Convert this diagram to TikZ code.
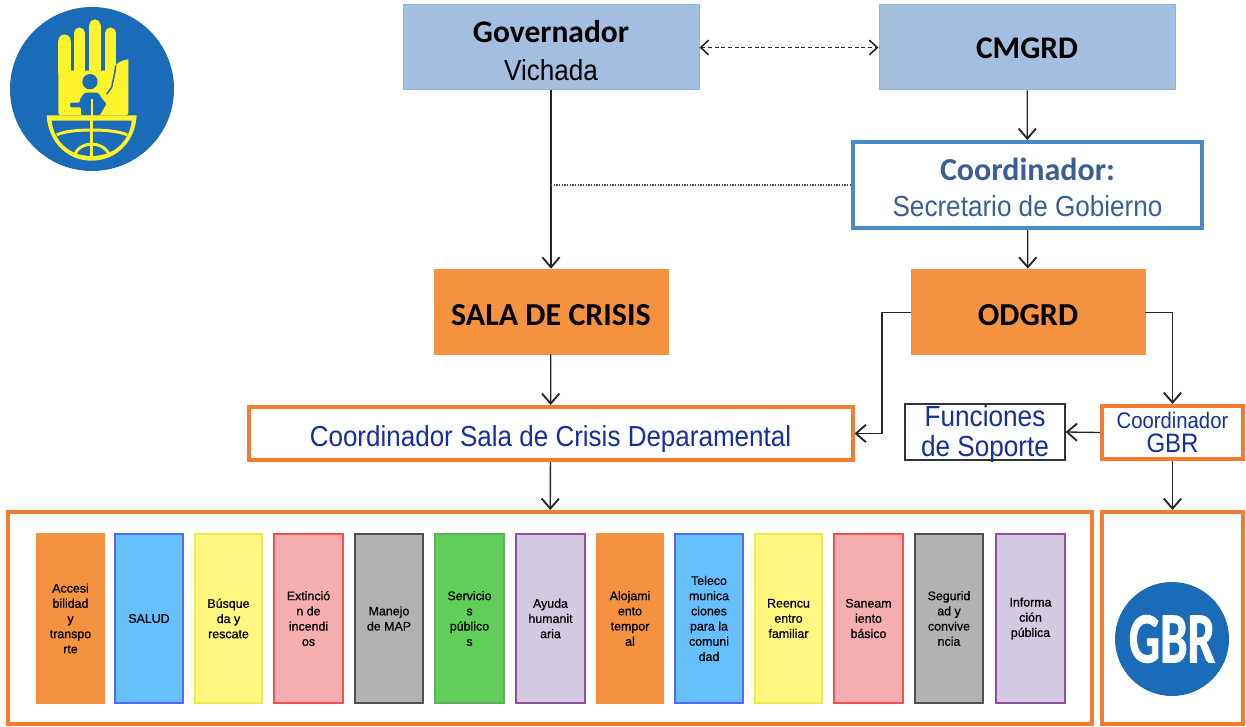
\documentclass[tikz,border=0pt]{standalone}
\usepackage{fontspec}
\setmainfont{Liberation Sans}
\newfontfamily\headf[Ligatures=TeX]{Carlito}
\newfontfamily\narrowf[FakeStretch=0.9]{Liberation Sans}
\newfontfamily\smallf[FakeBold=0.6]{Liberation Sans}
\newfontfamily\gbrf[FakeStretch=0.68,FakeBold=1.2]{Carlito Bold}
\newcommand{\px}[1]{\fontsize{\fpeval{#1*0.75}pt}{\fpeval{#1*0.75*1.1}pt}\selectfont}
\usetikzlibrary{arrows.meta,calc}
\definecolor{headblue}{HTML}{A4BEE0}
\definecolor{headline}{HTML}{8FB4DC}
\definecolor{cordline}{HTML}{4A8BC4}
\definecolor{cordtext}{HTML}{3A5F95}
\definecolor{orangefill}{HTML}{F4923F}
\definecolor{orangeline}{HTML}{F47B30}
\definecolor{navy}{HTML}{14309C}
\definecolor{logoblue}{HTML}{1A6BB8}
\definecolor{logoyellow}{HTML}{FFF42B}
\definecolor{fOr}{HTML}{F4923F}\definecolor{lOr}{HTML}{F4923F}
\definecolor{fBl}{HTML}{66BFFF}\definecolor{lBl}{HTML}{4D6BFF}
\definecolor{fYe}{HTML}{FFF780}\definecolor{lYe}{HTML}{F0E850}
\definecolor{fPi}{HTML}{F5ADB0}\definecolor{lPi}{HTML}{F0504F}
\definecolor{fGr}{HTML}{B2B2B2}\definecolor{lGr}{HTML}{505050}
\definecolor{fGn}{HTML}{61CF5A}\definecolor{lGn}{HTML}{5FB060}
\definecolor{fLi}{HTML}{D3C9E0}\definecolor{lLi}{HTML}{9050A0}
\tikzset{
  pxbox/.style n args={2}{minimum width=#1*0.75pt,minimum height=#2*0.75pt,inner sep=0pt,align=center,anchor=center},
  headbox/.style={fill=headblue,draw=headline,line width=0.75pt},
  orangebox/.style={fill=orangefill,draw=orangefill,line width=0.5pt},
  framebox/.style={fill=white,draw=orangeline,line width=3pt},
  conn/.style={draw=black!85,line width=1pt,-{Straight Barb[length=7.5pt,width=13pt,line width=1.4pt]}},
  tile/.style n args={2}{fill=f#1,draw=l#1,line width=1.6pt,minimum width=#2*0.75pt-1pt,minimum height=169*0.75pt,inner sep=0pt,align=center,anchor=center,font=\smallf\fontsize{9.3pt}{11.4pt}\selectfont}
}
\begin{document}
\begin{tikzpicture}[x=0.75pt,y=-0.75pt]
\useasboundingbox (0,0) rectangle (1246,727);
% logo
\fill[logoblue] (92,89) circle (82);
\begin{scope}[x=0.25pt,y=-0.25pt]
  \fill[logoyellow,rounded corners=2pt] (175,212) rectangle (385,346);
  \fill[logoyellow] (175,122) rectangle (212,220);
  \fill[logoyellow] (193.5,122) circle (18.5);
  \fill[logoyellow] (222,99) rectangle (255,220);
  \fill[logoyellow] (238.5,99) circle (16.5);
  \fill[logoyellow] (268,75) rectangle (302,220);
  \fill[logoyellow] (285,75) circle (17);
  \fill[logoyellow] (315,99) rectangle (348,220);
  \fill[logoyellow] (331.5,99) circle (16.5);
  \fill[logoyellow] (348,195) .. controls (355,185) and (370,180) .. (385,178) -- (385,220) -- (348,220) -- cycle;
  \draw[logoblue,line width=1.1pt] (347,196) -- (345,215) -- (335,262) -- (320,282);
  \fill[logoblue] (270,245) circle (23);
  \fill[logoblue,rounded corners=1pt] (240,296) -- (255,278) -- (295,278) -- (305,295) -- (320,312) -- (308,330) -- (300,346) -- (243,346) -- (243,322) -- (210,322) -- (210,308) -- (240,308) -- cycle;
  \draw[logoyellow,line width=1.6pt] (275,298) -- (275,350);
  % globe
  \fill[logoyellow] (140,346) -- (410,346) .. controls (405,430) and (345,482) .. (275,482) .. controls (205,482) and (145,430) .. (140,346) -- cycle;
  \fill[logoblue] (155,362) -- (395,362) .. controls (388,425) and (340,468) .. (275,468) .. controls (210,468) and (162,425) .. (155,362) -- cycle;
  \draw[logoyellow,line width=2.2pt] (170,405) .. controls (205,385) and (345,385) .. (382,405);
  \draw[logoyellow,line width=2.2pt] (222,470) .. controls (235,420) and (315,420) .. (330,470);
  \draw[logoyellow,line width=2.2pt] (275,346) -- (275,478);
\end{scope}
% top row
\node[headbox,pxbox={296}{85}] (gov) at (551,47.5) {\rule{0pt}{21pt}{\headf\bfseries\px{31.5}Governador}\\[11.5pt]{\narrowf\px{29}Vichada}};
\node[headbox,pxbox={296}{85}] (cmgrd) at (1027,47.5) {\raisebox{0pt}[16.5pt][0pt]{\headf\bfseries\px{31.5}CMGRD}};
\node[fill=white,draw=cordline,line width=3pt,pxbox={349}{86}] (coord) at (1027.5,185) {\rule{0pt}{20pt}{\headf\bfseries\color{cordtext}\px{32}Coordinador:}\\[10pt]{\narrowf\color{cordtext}\px{29}Secretario de Gobierno}};
\node[orangebox,pxbox={234}{85}] (sala) at (551,311.5) {\raisebox{0pt}[20.7pt][0pt]{\headf\bfseries\px{32}SALA DE CRISIS}};
\node[orangebox,pxbox={234}{85}] (odgrd) at (1028,311.5) {\raisebox{0pt}[20.7pt][0pt]{\headf\bfseries\px{32}ODGRD}};
\node[framebox,pxbox={604}{53}] (csala) at (550.5,433.5) {\raisebox{0pt}[19pt][0pt]{\narrowf\color{navy}\px{28.9}Coordinador Sala de Crisis Deparamental}};
\node[fill=white,draw=black!80,line width=0.9pt,pxbox={160}{56},text=navy,font=\narrowf\fontsize{21.8pt}{22.5pt}\selectfont] (func) at (985,432) {\raisebox{-8pt}[0pt][0pt]{\begin{tabular}{@{}c@{}}Funciones\\de Soporte\end{tabular}}};
\node[framebox,pxbox={141}{53},text=navy,font=\narrowf\fontsize{16.9pt}{18pt}\selectfont] (cgbr) at (1172.5,432.5) {Coordinador\\\fontsize{20pt}{18pt}\selectfont GBR};
\node[framebox,pxbox={1084}{212}] (big) at (550,618) {};
\node[framebox,pxbox={141}{212}] (gframe) at (1172.5,618) {};
\node[fill=logoblue,circle,minimum size=114*0.75pt,inner sep=0pt,text=white] (gbr) at (1172,639) {\gbrf\px{72}GBR};
% tiles
\node[tile={Or}{69}] (t1) at (70.5,618.5) {Accesi\\bilidad\\y\\transpo\\rte};
\node[tile={Bl}{69}] (t2) at (149,618.5) {SALUD};
\node[tile={Ye}{69}] (t3) at (228.5,618.5) {Búsque\\da y\\rescate};
\node[tile={Pi}{70}] (t4) at (308.5,618.5) {Extinció\\n de\\incendi\\os};
\node[tile={Gr}{69}] (t5) at (389,618.5) {Manejo\\de MAP};
\node[tile={Gn}{70}] (t6) at (469.5,618.5) {Servicio\\s\\público\\s};
\node[tile={Li}{70}] (t7) at (550.5,618.5) {Ayuda\\humanit\\aria};
\node[tile={Or}{68}] (t8) at (630,618.5) {Alojami\\ento\\tempor\\al};
\node[tile={Bl}{69}] (t9) at (709,618.5) {Teleco\\munica\\ciones\\para la\\comuni\\dad};
\node[tile={Ye}{69}] (t10) at (788.5,618.5) {Reencu\\entro\\familiar};
\node[tile={Pi}{70}] (t11) at (868.5,618.5) {Saneam\\iento\\básico};
\node[tile={Gr}{69}] (t12) at (949,618.5) {Segurid\\ad y\\convive\\ncia};
\node[tile={Li}{70}] (t13) at (1030.5,618.5) {Informa\\ción\\pública};
% connectors
\draw[densely dashed,draw=black!85,line width=0.9pt,{Straight Barb[length=6pt,width=11pt,line width=1.2pt]}-{Straight Barb[length=6pt,width=11pt,line width=1.2pt]}] (gov.east) -- (cmgrd.west);
\draw[conn] (gov) -- (sala);
\draw[densely dotted,draw=black!70,line width=1pt] (coord.west) -- (coord.west -| gov);
\draw[conn] (cmgrd) -- (coord);
\draw[conn] (coord) -- (odgrd);
\draw[conn] (sala) -- (csala);
\draw[conn] (csala) -- (big);
\coordinate (ow) at ($(odgrd.west)+(0,1)$);
\coordinate (oe) at ($(odgrd.east)+(0,1)$);
\coordinate (ol) at (882,0);
\draw[conn] (ow) -- (ow -| ol) |- (csala.east);
\draw[conn] (oe) -| (cgbr.north);
\draw[conn] (cgbr.west) -- (func.east);
\draw[conn] (cgbr) -- (gframe);
\end{tikzpicture}
\end{document}
